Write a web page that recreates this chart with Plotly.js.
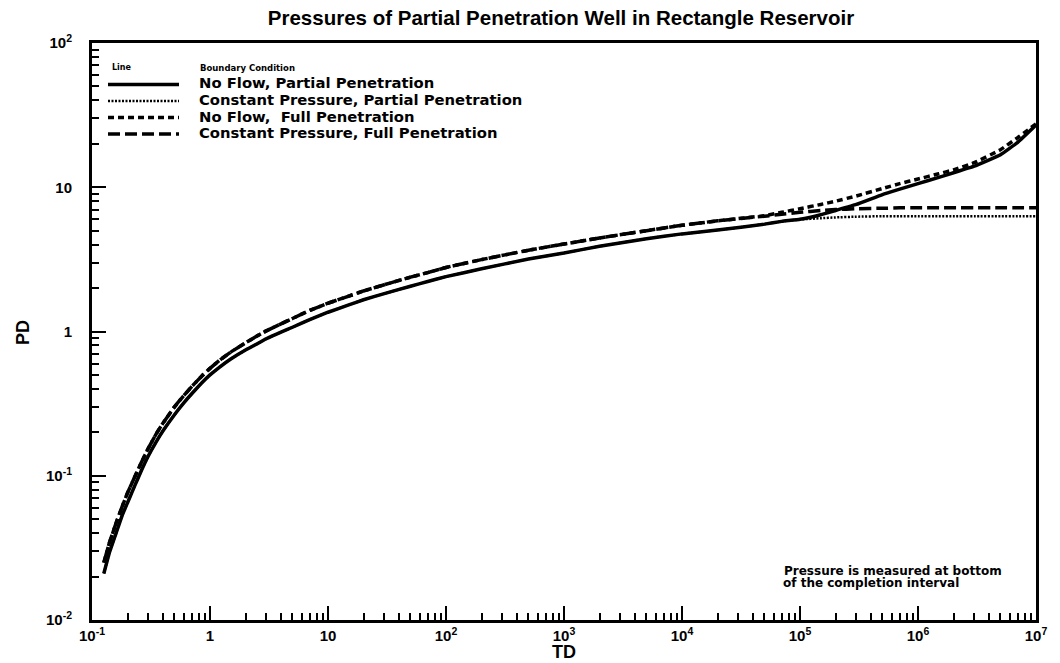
<!DOCTYPE html>
<html>
<head>
<meta charset="utf-8">
<script src="https://cdn.plot.ly/plotly-3.0.1.min.js"></script>
<style>
  html, body { margin: 0; padding: 0; background: #ffffff; }
  #chart { width: 1060px; height: 663px; }
</style>
</head>
<body>
<div id="chart"></div>
<script>
// ---- Data ----
const TD = [0.126, 0.14, 0.16, 0.18, 0.2, 0.23, 0.26, 0.3, 0.35, 0.4, 0.5, 0.6, 0.7, 0.85, 1, 1.2, 1.5, 2, 2.5, 3, 4, 5, 7,
            10, 15, 20, 30, 50, 70, 100, 200, 500, 1000, 2000, 5000, 1e4, 2e4, 5e4, 7e4, 1e5, 1.5e5, 2e5, 3e5, 5e5, 7e5,
            1e6, 1.5e6, 2e6, 3e6, 5e6, 7e6, 1e7];

const PD_NF_PARTIAL = [0.021, 0.029, 0.040, 0.053, 0.065, 0.085, 0.107, 0.137, 0.172, 0.205, 0.265, 0.32, 0.37, 0.44, 0.50, 0.565, 0.645, 0.745, 0.82, 0.89, 0.99, 1.07, 1.21,
                       1.36, 1.53, 1.66, 1.83, 2.06, 2.22, 2.40, 2.72, 3.18, 3.50, 3.90, 4.40, 4.75, 5.05, 5.55, 5.80, 6.0, 6.45, 6.9, 7.6, 8.9, 9.7,
                       10.6, 11.7, 12.6, 14.0, 16.8, 20.5, 27.0];

const PD_CP_PARTIAL = [0.021, 0.029, 0.040, 0.053, 0.065, 0.085, 0.107, 0.137, 0.172, 0.205, 0.265, 0.32, 0.37, 0.44, 0.50, 0.565, 0.645, 0.745, 0.82, 0.89, 0.99, 1.07, 1.21,
                       1.36, 1.53, 1.66, 1.83, 2.06, 2.22, 2.40, 2.72, 3.18, 3.50, 3.90, 4.40, 4.75, 5.05, 5.55, 5.80, 5.98, 6.1, 6.18, 6.25, 6.3, 6.3,
                       6.3, 6.3, 6.3, 6.3, 6.3, 6.3, 6.3];

const PD_NF_FULL = [0.025, 0.034, 0.047, 0.061, 0.076, 0.098, 0.122, 0.155, 0.195, 0.232, 0.30, 0.36, 0.415, 0.49, 0.555, 0.63, 0.72, 0.835, 0.93, 1.01, 1.13, 1.23, 1.40,
                    1.57, 1.76, 1.91, 2.11, 2.38, 2.56, 2.78, 3.15, 3.66, 4.04, 4.45, 5.00, 5.45, 5.85, 6.35, 6.7, 7.1, 7.6, 8.0, 8.7, 9.8, 10.6,
                    11.4, 12.4, 13.2, 14.8, 18.2, 22.1, 27.5];

const PD_CP_FULL = [0.025, 0.034, 0.047, 0.061, 0.076, 0.098, 0.122, 0.155, 0.195, 0.232, 0.30, 0.36, 0.415, 0.49, 0.555, 0.63, 0.72, 0.835, 0.93, 1.01, 1.13, 1.23, 1.40,
                    1.57, 1.76, 1.91, 2.11, 2.38, 2.56, 2.78, 3.15, 3.66, 4.04, 4.45, 5.00, 5.45, 5.85, 6.3, 6.5, 6.7, 6.9, 7.0, 7.1, 7.15, 7.2,
                    7.2, 7.2, 7.2, 7.2, 7.2, 7.2, 7.2];

const SERIES_NAMES = ["No Flow, Partial Penetration", "Constant Pressure, Partial Penetration",
                      "No Flow,  Full Penetration", "Constant Pressure, Full Penetration"];

const X_TICK_VALS = [0.1, 1, 10, 100, 1e3, 1e4, 1e5, 1e6, 1e7];
const X_TICK_TEXT = ["10<sup>-1</sup>", "1", "10", "10<sup>2</sup>", "10<sup>3</sup>", "10<sup>4</sup>", "10<sup>5</sup>", "10<sup>6</sup>", "10<sup>7</sup>"];
const Y_TICK_VALS = [0.01, 0.1, 1, 10, 100];
const Y_TICK_TEXT = ["10<sup>-2</sup>", "10<sup>-1</sup>", "1", "10", "10<sup>2</sup>"];

const TITLE = "Pressures of Partial Penetration Well in Rectangle Reservoir";
const X_TITLE = "TD";
const Y_TITLE = "PD";
const NOTE_LINES = ["Pressure is measured at bottom", "of the completion interval"];

// ---- Layout geometry ----
const W = 1060, H = 663;
const L = 92, R = 1036, T = 43, B = 620;
const px = x => (x - L) / (R - L);
const py = y => (B - y) / (B - T);

function minorTicks(lo, hi) {
  const out = [];
  for (let e = lo; e < hi; e++) for (let k = 2; k <= 9; k++) out.push(k * Math.pow(10, e));
  return out;
}

const FONT = "Liberation Sans, Arial, Helvetica, sans-serif";
const WIDE = "DejaVu Sans, Verdana, sans-serif";
const lineStyles = [
  {dash: "solid", width: 3.5},
  {dash: "2px,1.5px", width: 2.5},
  {dash: "6px,4px", width: 3.5},
  {dash: "12px,5px", width: 3.5}
];
const seriesData = [PD_NF_PARTIAL, PD_CP_PARTIAL, PD_NF_FULL, PD_CP_FULL];
const drawOrder = [3, 0, 1, 2];

const traces = drawOrder.map(i => ({
  type: "scatter", mode: "lines", name: SERIES_NAMES[i],
  x: TD, y: seriesData[i],
  line: {color: "#000", width: lineStyles[i].width, dash: lineStyles[i].dash, shape: "spline", smoothing: 0.3},
  showlegend: false, hoverinfo: "x+y+name"
}));

// Manual legend (as in the reference)
const legRows = [84.5, 101, 117.5, 134];
const shapes = legRows.map((y, i) => ({
  type: "line", xref: "paper", yref: "paper",
  x0: px(108), x1: px(179), y0: py(y), y1: py(y),
  line: {color: "#000", width: lineStyles[i].width, dash: lineStyles[i].dash}
}));

const txt = (text, x, y, size, family, extra) => Object.assign({
  text: text, xref: "paper", yref: "paper", x: px(x), y: py(y), xanchor: "left", yanchor: "middle",
  showarrow: false, font: {family: family, size: size, weight: "bold", color: "#000"}
}, extra || {});

const annotations = [
  txt("Line", 110, 68, 8, WIDE),
  txt("Boundary Condition", 198, 68, 8.5, WIDE),
  ...legRows.map((y, i) => txt(SERIES_NAMES[i], 197, y - 1.5, 14.8, WIDE)),
  txt(NOTE_LINES[0], 782, 571, 12, WIDE),
  txt(NOTE_LINES[1], 781, 583, 12, WIDE),
  txt(X_TITLE, 564, 652, 18, FONT, {xanchor: "center"}),
  txt(Y_TITLE, 23, 333, 18, FONT, {xanchor: "center", textangle: -90})
];

const axisCommon = {
  type: "log", showgrid: false, zeroline: false,
  showline: true, linecolor: "#000", linewidth: 3, mirror: true,
  ticks: "inside", ticklen: 14, tickwidth: 2, tickcolor: "#000",
  tickmode: "array",
  tickfont: {family: FONT, size: 15, weight: "bold", color: "#000"},
  minor: {ticks: "inside", ticklen: 7, tickwidth: 2, tickcolor: "#000", showgrid: false}
};

const layout = {
  width: W, height: H,
  paper_bgcolor: "#fff", plot_bgcolor: "#fff",
  margin: {l: L, r: W - R, t: T, b: H - B, pad: 0},
  showlegend: false,
  title: {text: TITLE, x: 561 / W, xanchor: "center", y: 1 - 18 / H, yanchor: "middle",
          font: {family: FONT, size: 20.5, weight: "bold", color: "#000"}},
  xaxis: Object.assign({}, axisCommon, {
    range: [-1, 7], tickvals: X_TICK_VALS, ticktext: X_TICK_TEXT,
    minor: Object.assign({}, axisCommon.minor, {tickvals: minorTicks(-1, 7)}),
    ticklabelstandoff: 0
  }),
  yaxis: Object.assign({}, axisCommon, {
    range: [-2, 2], tickvals: Y_TICK_VALS, ticktext: Y_TICK_TEXT,
    minor: Object.assign({}, axisCommon.minor, {tickvals: minorTicks(-2, 2)}),
    ticklabelstandoff: 14
  }),
  shapes: shapes,
  annotations: annotations
};

Plotly.newPlot("chart", traces, layout, {displayModeBar: false, staticPlot: true});
</script>
</body>
</html>
